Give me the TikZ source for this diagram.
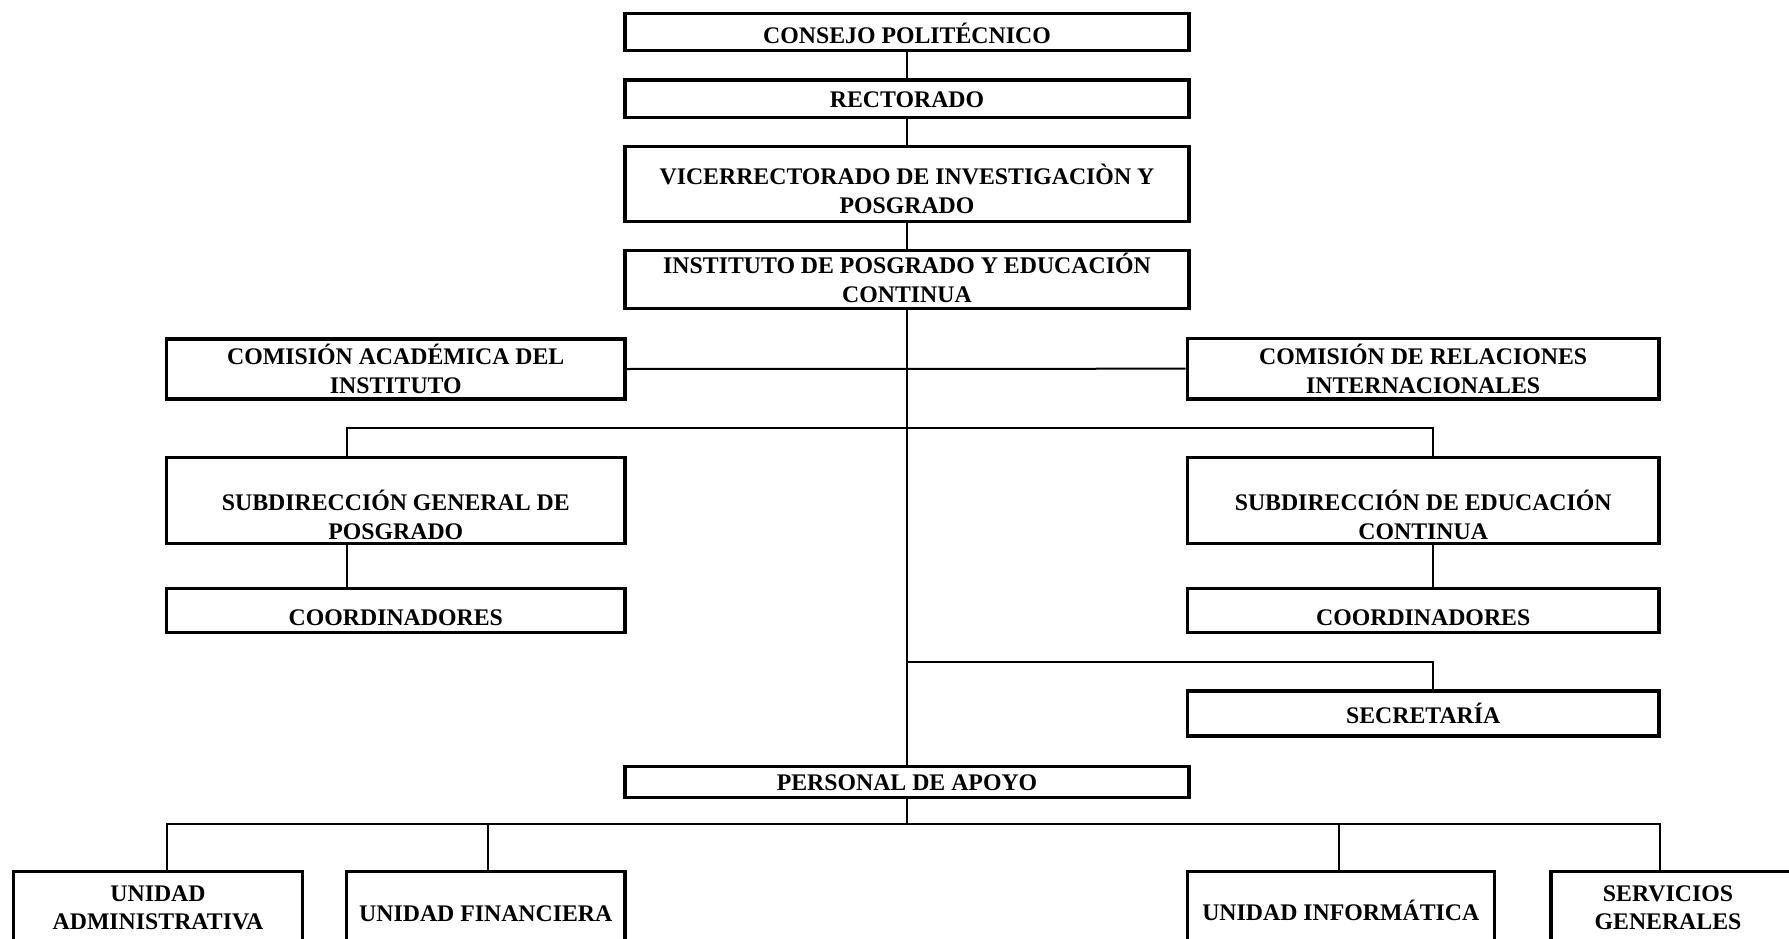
\documentclass[tikz,border=0pt]{standalone}
\usepackage{fontspec}
\setmainfont{Liberation Serif}
\newcommand\lbl[1]{\begin{tabular}{@{}c@{}}#1\end{tabular}}
\begin{document}
\begin{tikzpicture}[x=1pt,y=-1pt,
  box/.style={draw=black,line width=3.3pt,inner sep=0pt,fill=white},
  txt/.style={inner sep=0pt,font=\bfseries\fontsize{23.8}{28.4}\selectfont},
  conn/.style={draw=black,line width=2pt}]
\clip (0,0) rectangle (1789,939);
\fill[white] (0,0) rectangle (1789,939);
\coordinate (b1L) at (346.7,427.7);
\coordinate (b1R) at (1433.3,427.7);
\coordinate (b2R) at (1433.3,661.7);
\coordinate (cA) at (166.7,824);
\coordinate (cF) at (488.3,824);
\coordinate (cI) at (1339,824);
\coordinate (cS) at (1660,824);
% boxes
\node[box,minimum width=564,minimum height=37.4] (consejo) at (907,32) {};
\node[box,minimum width=564,minimum height=37.3] (rect) at (907,98.7) {};
\node[box,minimum width=564,minimum height=75] (vice) at (907,184.2) {};
\node[box,minimum width=564,minimum height=57.6] (inst) at (907,279.5) {};
\node[box,minimum width=458.3,minimum height=60] (comacad) at (395.8,369) {};
\node[box,minimum width=471.7,minimum height=60.7] (comrel) at (1423.2,368.7) {};
\node[box,minimum width=458.3,minimum height=85.6] (subgen) at (395.8,500.5) {};
\node[box,minimum width=471.7,minimum height=85.6] (subedu) at (1423.2,500.5) {};
\node[box,minimum width=458.3,minimum height=43.6] (coordL) at (395.8,610.5) {};
\node[box,minimum width=471.7,minimum height=43.6] (coordR) at (1423.2,610.5) {};
\node[box,minimum width=471.7,minimum height=45] (secre) at (1423.2,713.5) {};
\node[box,minimum width=564,minimum height=30.6] (personal) at (907,782) {};
\node[box,minimum width=289.4,minimum height=88.3] (admin) at (158,915.85) {};
\node[box,minimum width=278.3,minimum height=88.3] (fin) at (485.8,915.85) {};
\node[box,minimum width=307,minimum height=88.3] (info) at (1340.8,915.85) {};
\node[box,minimum width=249,minimum height=88.3] (serv) at (1675.5,915.85) {};
% texts
\node[txt] (consejo-t) at (907,37.9) {\lbl{CONSEJO POLITÉCNICO}};
\node[txt] (rect-t) at (907,102.1) {\lbl{RECTORADO}};
\node[txt] (vice-t) at (907,193.1) {\lbl{VICERRECTORADO DE INVESTIGACIÒN Y\\POSGRADO}};
\node[txt] (inst-t) at (907,282.1) {\lbl{INSTITUTO DE POSGRADO Y EDUCACIÓN\\CONTINUA}};
\node[txt] (comacad-t) at (395.8,373.1) {\lbl{COMISIÓN ACADÉMICA DEL\\INSTITUTO}};
\node[txt] (comrel-t) at (1423.2,373.1) {\lbl{COMISIÓN DE RELACIONES\\INTERNACIONALES}};
\node[txt] (subgen-t) at (395.8,519) {\lbl{SUBDIRECCIÓN GENERAL DE\\POSGRADO}};
\node[txt] (subedu-t) at (1423.2,519) {\lbl{SUBDIRECCIÓN DE EDUCACIÓN\\CONTINUA}};
\node[txt] (coordL-t) at (395.8,619.4) {\lbl{COORDINADORES}};
\node[txt] (coordR-t) at (1423.2,619.4) {\lbl{COORDINADORES}};
\node[txt] (secre-t) at (1423.2,717.1) {\lbl{SECRETARÍA}};
\node[txt] (personal-t) at (907,784.8) {\lbl{PERSONAL DE APOYO}};
\node[txt] (admin-t) at (158,909.6) {\lbl{UNIDAD\\ADMINISTRATIVA}};
\node[txt] (fin-t) at (485.8,916.1) {\lbl{UNIDAD FINANCIERA}};
\node[txt] (info-t) at (1340.8,914.4) {\lbl{UNIDAD INFORMÁTICA}};
\node[txt] (serv-t) at (1668,910.1) {\lbl{SERVICIOS\\GENERALES}};
% connectors
\draw[conn] (consejo.south) -- (rect.north);
\draw[conn] (rect.south) -- (vice.north);
\draw[conn] (vice.south) -- (inst.north);
\draw[conn] (inst.south) -- (personal.north);
\draw[conn] (comacad.east) -- (comrel.west);
\draw[conn] (subgen.north -| b1L) -- (b1L) -- (b1R) -- (subedu.north -| b1R);
\draw[conn] (subgen.south -| b1L) -- (coordL.north -| b1L);
\draw[conn] (subedu.south -| b1R) -- (coordR.north -| b1R);
\draw[conn] (inst.south |- b2R) -- (b2R) -- (secre.north -| b2R);
\draw[conn] (admin.north -| cA) -- (cA) -- (cS) -- (serv.north -| cS);
\draw[conn] (personal.south) -- (personal.south |- cA);
\draw[conn] (cF) -- (fin.north -| cF);
\draw[conn] (cI) -- (info.north -| cI);
\end{tikzpicture}
\end{document}
